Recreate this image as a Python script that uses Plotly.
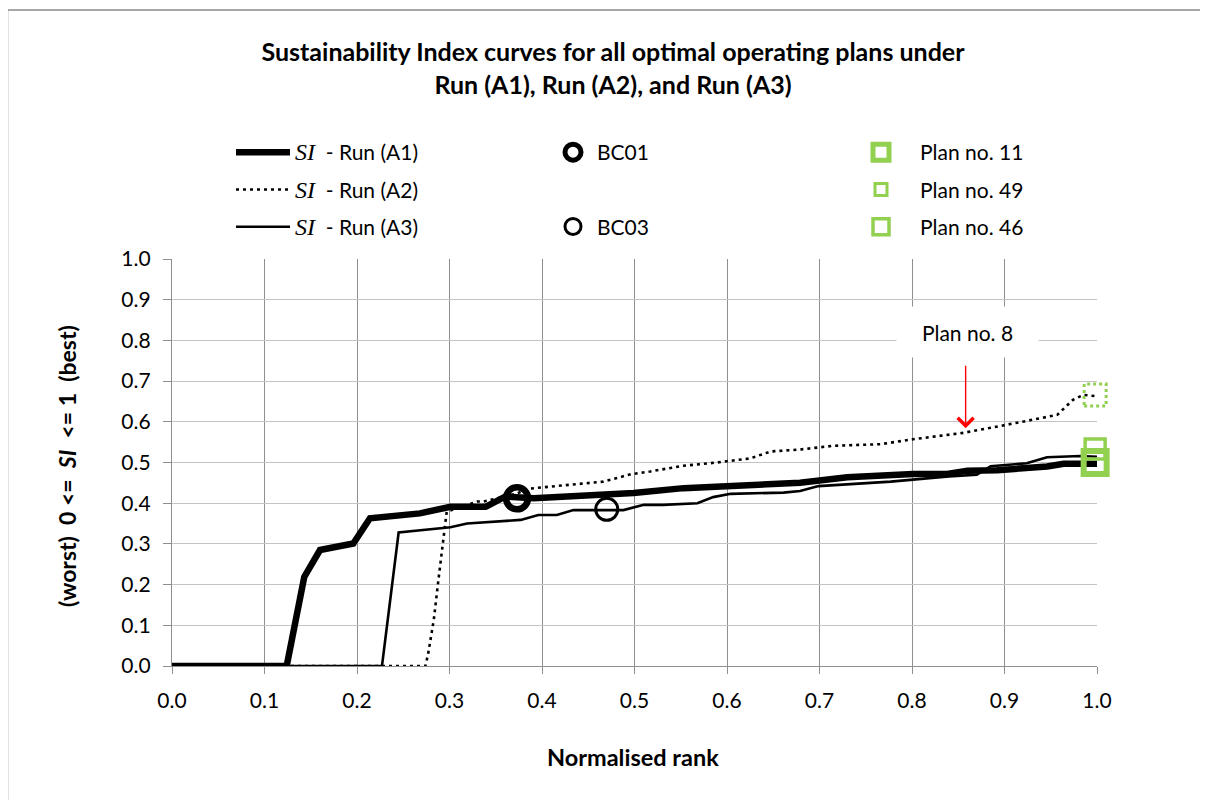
import plotly.graph_objects as go

# ---------------- data ----------------
rank_a1 = [0.0, 0.124, 0.143, 0.160, 0.196, 0.214, 0.268, 0.301, 0.339, 0.360, 0.391, 0.445,
           0.499, 0.553, 0.607, 0.644, 0.679, 0.730, 0.801, 0.838, 0.860, 0.892, 0.946, 0.964, 1.0]
si_a1 = [0.0, 0.0, 0.219, 0.285, 0.301, 0.363, 0.375, 0.391, 0.391, 0.416, 0.412, 0.417,
         0.425, 0.437, 0.442, 0.449, 0.450, 0.464, 0.472, 0.472, 0.480, 0.481, 0.490, 0.497, 0.497]

rank_a2 = [0.0, 0.274, 0.277, 0.283, 0.288, 0.293, 0.297, 0.330, 0.337, 0.373, 0.387, 0.466,
           0.496, 0.517, 0.553, 0.589, 0.625, 0.647, 0.679, 0.715, 0.766, 0.801, 0.856, 0.910,
           0.957, 0.974, 0.985, 1.0]
si_a2 = [0.0, 0.0, 0.031, 0.113, 0.211, 0.310, 0.379, 0.404, 0.404, 0.424, 0.436, 0.453,
         0.471, 0.478, 0.492, 0.500, 0.510, 0.527, 0.532, 0.541, 0.545, 0.557, 0.573, 0.596,
         0.617, 0.654, 0.666, 0.663]

rank_a3 = [0.0, 0.227, 0.245, 0.301, 0.319, 0.377, 0.396, 0.416, 0.434, 0.488, 0.510, 0.531,
           0.568, 0.585, 0.604, 0.661, 0.679, 0.699, 0.777, 0.840, 0.870, 0.885, 0.924, 0.946,
           0.982, 1.0]
si_a3 = [0.0, 0.0, 0.328, 0.341, 0.350, 0.359, 0.371, 0.371, 0.383, 0.383, 0.396, 0.396,
         0.400, 0.415, 0.423, 0.426, 0.430, 0.442, 0.453, 0.466, 0.470, 0.491, 0.498, 0.513,
         0.516, 0.514]

bc01_x, bc01_y = [0.373], [0.412]
bc03_x, bc03_y = [0.470], [0.385]
plan11_x, plan11_y = [0.998], [0.500]
plan49_x, plan49_y = [0.998], [0.666]
plan46_x, plan46_y = [0.998], [0.533]
plan8_x, plan8_y = 0.858, 0.584

x_ticks = [0.0, 0.1, 0.2, 0.3, 0.4, 0.5, 0.6, 0.7, 0.8, 0.9, 1.0]
y_ticks = [0.0, 0.1, 0.2, 0.3, 0.4, 0.5, 0.6, 0.7, 0.8, 0.9, 1.0]
x_range = [0.0, 1.0]
y_range = [0.0, 1.0]

# ---------------- style ----------------
W, H = 1208, 800
OFF = 8  # page body margin of the html wrapper
PL, PT, PW, PH = 172, 259, 925, 407  # plot area in page pixels
ML, MT = PL - OFF, PT - OFF
MR, MB = W - ML - PW, H - MT - PH
GREEN = "#92D050"
FONT = "Lato"
SI = "<span style='font-family:Liberation Serif;font-size:24px'><i>SI</i></span>"


def px2x(px):
    return (px - PL) / PW


def py2y(py):
    return (PT + PH - py) / PH


def data2paper_x(v):
    return (v - x_range[0]) / (x_range[1] - x_range[0])


def data2paper_y(v):
    return (v - y_range[0]) / (y_range[1] - y_range[0])


fig = go.Figure()

fig.add_trace(go.Scatter(x=rank_a1, y=si_a1, mode="lines", name=SI + "  - Run (A1)",
                         line=dict(color="black", width=6.5), legend="legend", legendgroup="a1",
                         legendrank=1))
fig.add_trace(go.Scatter(x=rank_a2, y=si_a2, mode="lines", name=SI + "  - Run (A2)",
                         line=dict(color="black", width=2.6, dash="3px,4px"), legend="legend",
                         legendgroup="a2", legendrank=2))
fig.add_trace(go.Scatter(x=rank_a3, y=si_a3, mode="lines", name=SI + "  - Run (A3)",
                         line=dict(color="black", width=2.6), legend="legend", legendgroup="a3",
                         legendrank=3))

fig.add_trace(go.Scatter(x=bc01_x, y=bc01_y, mode="markers", name="BC01", cliponaxis=False,
                         marker=dict(symbol="circle-open", size=22, color="black",
                                     line=dict(width=6.5, color="black")),
                         legend="legend2", legendgroup="bc01", legendrank=1))
fig.add_trace(go.Scatter(x=bc03_x, y=bc03_y, mode="markers", name="BC03", cliponaxis=False,
                         marker=dict(symbol="circle-open", size=22, color="black",
                                     line=dict(width=3, color="black")),
                         legend="legend2", legendgroup="bc03", legendrank=2))

fig.add_trace(go.Scatter(x=plan46_x, y=plan46_y, mode="markers", name="Plan no. 46",
                         cliponaxis=False,
                         marker=dict(symbol="square-open", size=20, color=GREEN,
                                     line=dict(width=3.5, color=GREEN)),
                         legend="legend3", legendgroup="p46", legendrank=3))
fig.add_trace(go.Scatter(x=plan11_x, y=plan11_y, mode="markers", name="Plan no. 11",
                         cliponaxis=False,
                         marker=dict(symbol="square-open", size=23, color=GREEN,
                                     line=dict(width=6, color=GREEN)),
                         legend="legend3", legendgroup="p11", legendrank=1))

shapes = [
    dict(type="rect", xref="paper", yref="paper", x0=px2x(7.5), x1=px2x(1240), y0=py2y(840),
         y1=py2y(10), line=dict(color="#8a8a8a", width=1.5), layer="below"),
    dict(type="rect", xref="paper", yref="paper", xsizemode="pixel", ysizemode="pixel",
         xanchor=data2paper_x(plan49_x[0]), yanchor=data2paper_y(plan49_y[0]),
         x0=-11, x1=11, y0=-11, y1=11,
         line=dict(color=GREEN, width=3, dash="dot"), fillcolor="rgba(0,0,0,0)",
         showlegend=True, legend="legend3", legendgroup="p49", legendrank=2, name="Plan no. 49"),
]

annotations = [
    dict(text="<b>(worst)&nbsp;&nbsp;0 &lt;=&nbsp;&nbsp;<i>SI</i>&nbsp; &lt;= 1&nbsp;&nbsp;(best)</b>",
         xref="paper", yref="paper", x=px2x(67), y=py2y(466), xanchor="center",
         yanchor="middle", textangle=-90, showarrow=False,
         font=dict(family=FONT, size=23, color="black")),
    dict(text="<b>Normalised rank</b>", xref="paper", yref="paper", x=px2x(633), y=py2y(757),
         xanchor="center", yanchor="middle", showarrow=False,
         font=dict(family=FONT, size=23.5, color="black")),
    dict(text="", x=plan8_x, y=plan8_y, xref="x", yref="y", showarrow=True, ax=0, ay=-64,
         arrowcolor="red", arrowwidth=1.4, arrowhead=4, arrowsize=2.2),
    dict(text="Plan no. 8", xref="paper", yref="paper", x=px2x(967.5), y=py2y(331.5),
         xanchor="center", yanchor="middle", showarrow=False, width=139, height=48,
         bgcolor="white", font=dict(family=FONT, size=21, color="black")),
]

legend_common = dict(xref="paper", yref="paper", xanchor="left", yanchor="top",
                     traceorder="grouped", bgcolor="rgba(0,0,0,0)",
                     font=dict(family=FONT, size=21, color="black"))

fig.update_layout(
    width=W, height=H, margin=dict(l=ML, r=MR, t=MT, b=MB, autoexpand=False),
    paper_bgcolor="white", plot_bgcolor="white",
    font=dict(family=FONT, size=20, color="black"),
    title=dict(text="<b>Sustainability Index curves for all optimal operating plans under<br>"
                    "Run (A1), Run (A2), and Run (A3)</b>",
               x=(613 - OFF) / W, xanchor="center", xref="container",
               y=1 - (61 - OFF) / H, yanchor="middle",
               yref="container", font=dict(family=FONT, size=25, color="black")),
    xaxis=dict(range=x_range, tickvals=x_ticks, ticktext=[f"{v:.1f}" for v in x_ticks],
               showgrid=True, gridcolor="#8f8f8f", gridwidth=1.4, zeroline=False,
               showline=True, linecolor="#8f8f8f", linewidth=1.4, ticks="outside", ticklen=7,
               tickcolor="#8f8f8f", tickwidth=1.4, ticklabelstandoff=9,
               tickfont=dict(family=FONT, size=21, color="black")),
    yaxis=dict(range=y_range, tickvals=y_ticks, ticktext=[f"{v:.1f}" for v in y_ticks],
               showgrid=True, gridcolor="#c4c4c4", gridwidth=1.4, zeroline=False,
               showline=True, linecolor="#8f8f8f", linewidth=1.4, ticks="outside", ticklen=8,
               tickcolor="#8f8f8f", tickwidth=1.4, ticklabelstandoff=8,
               tickfont=dict(family=FONT, size=21, color="black")),
    legend=dict(legend_common, x=px2x(231), y=py2y(132), itemwidth=54, tracegroupgap=7),
    legend2=dict(legend_common, x=px2x(549), y=py2y(132), itemwidth=38, tracegroupgap=44),
    legend3=dict(legend_common, x=px2x(842), y=py2y(132), itemwidth=68, tracegroupgap=7),
    shapes=shapes,
    annotations=annotations,
)

fig.write_html("out.html")
